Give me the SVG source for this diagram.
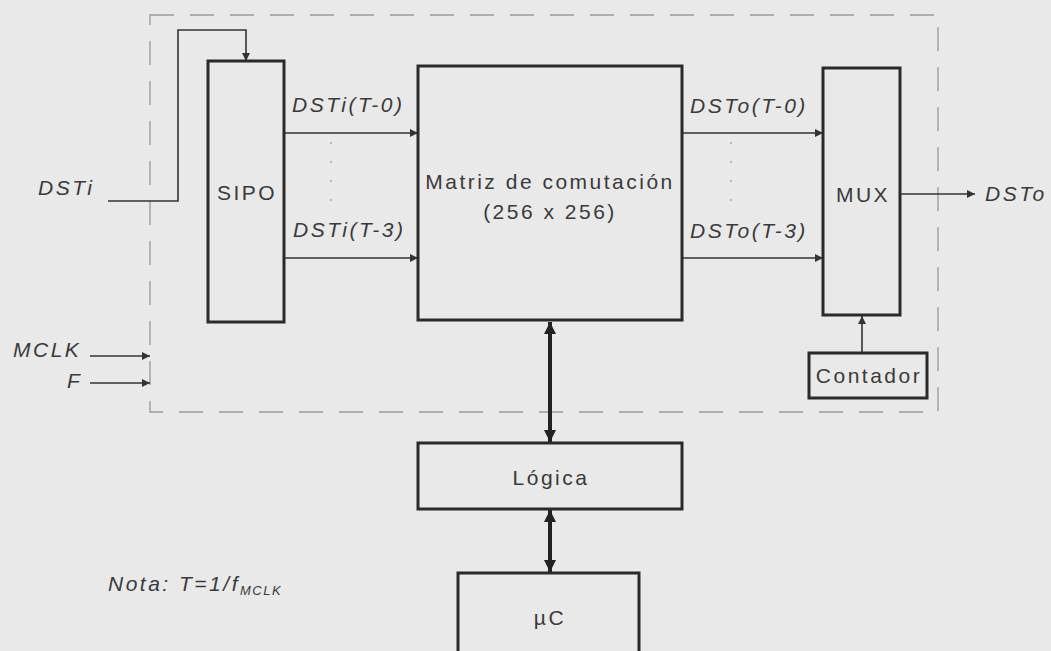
<svg xmlns="http://www.w3.org/2000/svg" width="1051" height="651" viewBox="0 0 1051 651">
<defs>
<style>
.box{fill:none;stroke:#2a2a2a;stroke-width:3}
.ln{fill:none;stroke:#333;stroke-width:1.6}
.thick{fill:none;stroke:#222;stroke-width:4}
.dash{fill:none;stroke:#999;stroke-width:1.3;stroke-dasharray:24 16}
.dot{fill:none;stroke:#aaa;stroke-width:1.6;stroke-dasharray:2 17}
.t{font-family:"Liberation Sans",Arial,sans-serif;font-size:21px;fill:#3a3a3a;letter-spacing:2.5px}
.it{font-style:italic}
</style>
<marker id="ah" viewBox="0 0 10 10" refX="10" refY="5" markerWidth="13" markerHeight="8" markerUnits="userSpaceOnUse" orient="auto"><path d="M0,0 L10,5 L0,10 z" fill="#333"/></marker>
<marker id="ahb" viewBox="0 0 10 10" refX="10" refY="5" markerWidth="13" markerHeight="12" markerUnits="userSpaceOnUse" orient="auto-start-reverse"><path d="M0,0 L10,5 L0,10 z" fill="#222"/></marker>
</defs>
<rect width="1051" height="651" fill="#e9e9e9"/>
<rect id="boundary" x="150" y="15" width="788" height="397" class="dash"/>
<g id="connectors">
<polyline class="ln" points="108,201 178,201 178,30 246,30 246,61" marker-end="url(#ah)"/>
<line class="ln" x1="284" y1="133" x2="418" y2="133" marker-end="url(#ah)"/>
<line class="ln" x1="284" y1="258" x2="418" y2="258" marker-end="url(#ah)"/>
<line class="dot" x1="331" y1="142" x2="331" y2="205"/>
<line class="ln" x1="682" y1="133" x2="823" y2="133" marker-end="url(#ah)"/>
<line class="ln" x1="682" y1="258" x2="823" y2="258" marker-end="url(#ah)"/>
<line class="dot" x1="731" y1="142" x2="731" y2="205"/>
<line class="ln" x1="900" y1="194" x2="975" y2="194" marker-end="url(#ah)"/>
<line class="ln" x1="862" y1="353" x2="862" y2="316" marker-end="url(#ah)"/>
<line class="ln" x1="90" y1="356" x2="150" y2="356" marker-end="url(#ah)"/>
<line class="ln" x1="90" y1="383" x2="150" y2="383" marker-end="url(#ah)"/>
<line class="thick" x1="550" y1="322" x2="550" y2="442" marker-start="url(#ahb)" marker-end="url(#ahb)"/>
<line class="thick" x1="550" y1="510" x2="550" y2="572" marker-start="url(#ahb)" marker-end="url(#ahb)"/>
</g>
<g id="sipo"><rect class="box" x="208" y="61" width="76" height="261"/><text class="t" x="247" y="200" text-anchor="middle">SIPO</text></g>
<g id="matriz"><rect class="box" x="418" y="66" width="264" height="254"/><text class="t" x="550" y="189" text-anchor="middle" letter-spacing="2">Matriz de comutación</text><text class="t" x="550" y="219" text-anchor="middle" letter-spacing="2">(256 x 256)</text></g>
<g id="mux"><rect class="box" x="823" y="68" width="77" height="247"/><text class="t" x="863" y="202" text-anchor="middle" letter-spacing="2">MUX</text></g>
<g id="contador"><rect class="box" x="809" y="353" width="118" height="45"/><text class="t" x="869" y="383" text-anchor="middle" letter-spacing="1.5">Contador</text></g>
<g id="logica"><rect class="box" x="418" y="443" width="264" height="66"/><text class="t" x="551" y="485" text-anchor="middle">Lógica</text></g>
<g id="uc"><rect class="box" x="458" y="573" width="181" height="90"/><text class="t" x="550" y="625" text-anchor="middle">µC</text></g>
<g id="labels">
<text class="t it" x="38" y="195" letter-spacing="3">DSTi</text>
<text class="t it" x="292" y="112">DSTi(T-0)</text>
<text class="t it" x="293" y="237">DSTi(T-3)</text>
<text class="t it" x="690" y="113">DSTo(T-0)</text>
<text class="t it" x="690" y="238">DSTo(T-3)</text>
<text class="t it" x="985" y="201" letter-spacing="3">DSTo</text>
<text class="t it" x="13" y="357" letter-spacing="3">MCLK</text>
<text class="t it" x="67" y="388">F</text>
<text class="t it" x="108" y="591" font-size="19" letter-spacing="3">Nota: T=1/f<tspan font-size="13" letter-spacing="1.5" dy="4">MCLK</tspan></text>
</g>
</svg>
